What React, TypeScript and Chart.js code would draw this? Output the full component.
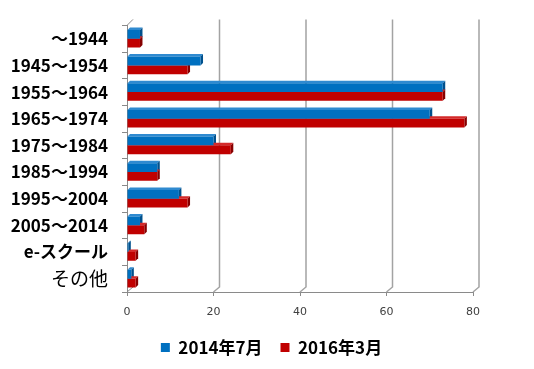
import { useEffect, useRef } from "react";
import { Chart, registerables } from "chart.js";

Chart.register(...registerables);

const categories = [
  "～1944",
  "1945～1954",
  "1955～1964",
  "1965～1974",
  "1975～1984",
  "1985～1994",
  "1995～2004",
  "2005～2014",
  "e-スクール",
  "その他",
];
const series2014 = [3, 17, 73, 70, 20, 7, 12, 3, 0.3, 1];
const series2016 = [3, 14, 73, 78, 24, 7, 14, 4, 2, 2];
const seriesLabels = ["2014年7月", "2016年3月"];
const xTickValues = [0, 20, 40, 60, 80];

const FRONT = ["#0070C0", "#C00000"];
const TOP = ["#2f8ad0", "#d42a2a"];
const SIDE = ["#00508c", "#860000"];
const D = 2.5; // bar depth
const W = 6; // wall depth
const AXIS = "#8a8a8a";

const depth3d = {
  id: "depth3d",
  beforeDatasetsDraw(chart: any) {
    const { ctx, chartArea } = chart;
    const x = chart.scales.x;
    ctx.save();
    ctx.strokeStyle = "#a3a3a3";
    ctx.lineWidth = 1.5;
    xTickValues.forEach((v) => {
      if (v === 0) return;
      const px = x.getPixelForValue(v);
      ctx.beginPath();
      ctx.moveTo(px + W, chartArea.top - W);
      ctx.lineTo(px + W, chartArea.bottom - W + 1);
      ctx.lineTo(px, chartArea.bottom);
      ctx.stroke();
    });
    ctx.strokeStyle = AXIS;
    ctx.lineWidth = 1;
    const lx = x.getPixelForValue(0);
    ctx.beginPath();
    ctx.moveTo(lx, chartArea.top);
    ctx.lineTo(lx + W, chartArea.top - W);
    ctx.moveTo(lx, chartArea.bottom);
    ctx.lineTo(lx + W, chartArea.bottom - W + 1);
    ctx.stroke();
    chart.data.datasets.forEach((_ds: any, i: number) => {
      const meta = chart.getDatasetMeta(i);
      meta.data.forEach((el: any) => {
        const { x: ex, y, base, height } = el.getProps(["x", "y", "base", "height"], true);
        const t = y - height / 2;
        const b = y + height / 2;
        ctx.fillStyle = TOP[i];
        ctx.beginPath();
        ctx.moveTo(base, t);
        ctx.lineTo(base + D, t - D);
        ctx.lineTo(ex + D, t - D);
        ctx.lineTo(ex, t);
        ctx.closePath();
        ctx.fill();
        ctx.fillStyle = SIDE[i];
        ctx.beginPath();
        ctx.moveTo(ex, t);
        ctx.lineTo(ex + D, t - D);
        ctx.lineTo(ex + D, b - D);
        ctx.lineTo(ex, b);
        ctx.closePath();
        ctx.fill();
      });
    });
    ctx.restore();
  },
};

const legendShift = {
  id: "legendShift",
  afterLayout(chart: any) {
    const l = chart.legend;
    if (l) {
      l.left = 9;
      l.right = 534;
      l.width = 525;
    }
  },
};

export default function App() {
  const ref = useRef<HTMLCanvasElement | null>(null);
  useEffect(() => {
    if (!ref.current) return;
    const chart = new Chart(ref.current, {
      type: "bar",
      data: {
        labels: categories,
        datasets: [
          { label: seriesLabels[0], data: series2014, backgroundColor: FRONT[0], borderWidth: 0 },
          { label: seriesLabels[1], data: series2016, backgroundColor: FRONT[1], borderWidth: 0 },
        ],
      },
      options: {
        indexAxis: "y",
        animation: false,
        responsive: false,
        maintainAspectRatio: false,
        datasets: { bar: { categoryPercentage: 0.66, barPercentage: 1.0 } },
        layout: { padding: { top: 24, right: 61, left: 0, bottom: 3 } },
        scales: {
          x: {
            min: 0,
            max: 80,
            afterFit: (s: any) => {
              s.height = 29;
            },
            ticks: {
              stepSize: 20,
              padding: 10,
              color: "#404040",
              font: { family: "DejaVu Sans", size: 11 },
            },
            grid: { drawOnChartArea: false, drawTicks: true, tickLength: 4, color: AXIS },
            border: { display: true, color: AXIS },
          },
          y: {
            afterFit: (s: any) => {
              s.width = 127;
            },
            ticks: {
              padding: 14,
              color: "#000000",
              font: (c: any) =>
                c.index === 9
                  ? { family: "Noto Sans CJK JP", size: 19, weight: "normal" }
                  : { family: "Noto Sans CJK JP", size: 17, weight: "bold" },
            },
            grid: { drawOnChartArea: false, drawTicks: true, tickLength: 5, color: AXIS, offset: true },
            border: { display: true, color: AXIS },
          },
        },
        plugins: {
          legend: {
            position: "bottom",
            labels: {
              boxWidth: 9,
              boxHeight: 9,
              padding: 18,
              color: "#000000",
              font: { family: "Noto Sans CJK JP", size: 17, weight: "bold" },
            },
          },
          tooltip: { enabled: false },
        },
      },
      plugins: [depth3d, legendShift],
    });
    return () => chart.destroy();
  }, []);
  return (
    <div style={{ position: "fixed", left: 0, top: 0, width: 534, height: 369, background: "#fff" }}>
      <canvas ref={ref} width={534} height={369} />
    </div>
  );
}
